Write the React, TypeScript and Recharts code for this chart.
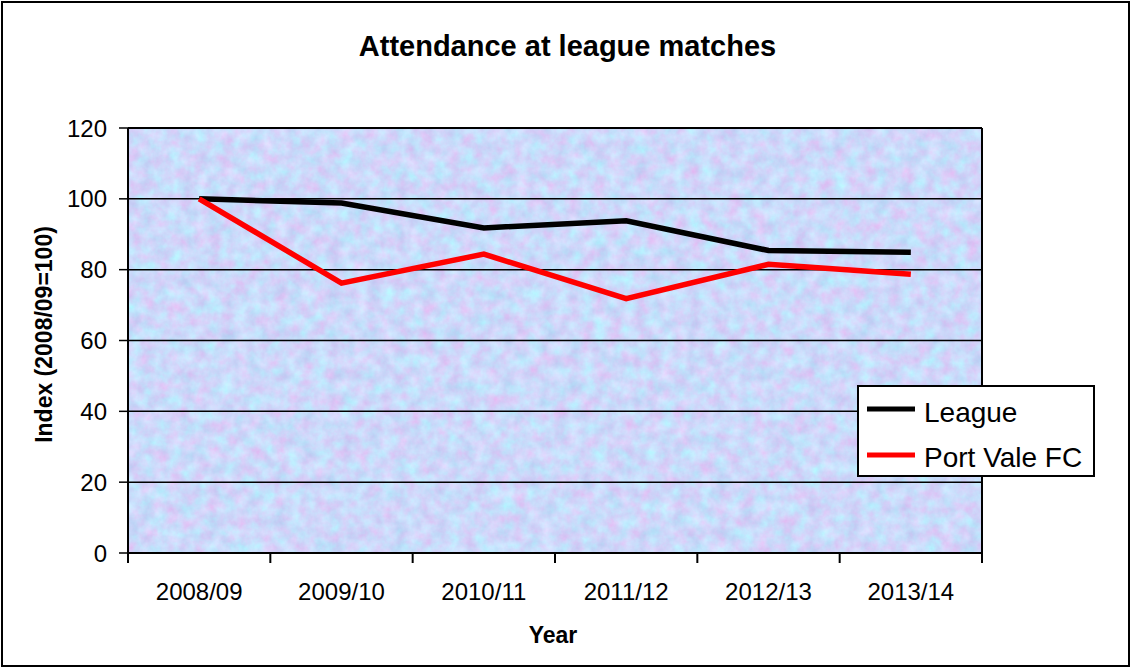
import React from 'react';
import { LineChart, Line, XAxis, YAxis, CartesianGrid, Legend, ReferenceLine } from 'recharts';

const categories = ['2008/09', '2009/10', '2010/11', '2011/12', '2012/13', '2013/14'];
const leagueValues = [100, 98.8, 91.8, 93.8, 85.4, 84.9];
const portValeValues = [100, 76.2, 84.4, 71.8, 81.5, 78.7];
const yTicks = [0, 20, 40, 60, 80, 100, 120];

const FONT = "Arial, 'Liberation Sans', sans-serif";

const data = categories.map((c, i) => ({
  idx: i,
  category: c,
  league: leagueValues[i],
  portVale: portValeValues[i],
}));

// tick positions: category centres (labels) and boundaries (tick marks)
const xTickPositions: number[] = [];
categories.forEach((_, i) => {
  xTickPositions.push(i - 0.5);
  xTickPositions.push(i);
});
xTickPositions.push(categories.length - 0.5);

const renderXTick = (props: any) => {
  const { x, y, payload } = props;
  const v = payload.value;
  if (Number.isInteger(v)) {
    return (
      <text x={x} y={y + 47} textAnchor="middle" fontSize={24} fontFamily={FONT} fill="#000">
        {categories[v]}
      </text>
    );
  }
  return <line x1={x} x2={x} y1={y} y2={y + 10} stroke="#000" strokeWidth={2} />;
};

const renderLegend = (props: any) => {
  const payload = props.payload || [];
  return (
    <svg width={238} height={92} style={{ display: 'block' }}>
      <rect x={1} y={1} width={236} height={90} fill="#fff" stroke="#000" strokeWidth={2} />
      {payload.map((entry: any, i: number) => (
        <g key={i}>
          <line x1={10} x2={58} y1={24 + i * 46} y2={24 + i * 46} stroke={entry.color} strokeWidth={5} />
          <text x={67} y={37 + i * 45} fontSize={28} fontFamily={FONT} fill="#000">
            {entry.value}
          </text>
        </g>
      ))}
    </svg>
  );
};

export default function App() {
  return (
    <div style={{ position: 'absolute', left: 0, top: 0, width: 1132, height: 667, background: '#fff', fontFamily: FONT }}>
      <LineChart
        width={1132}
        height={667}
        data={data}
        margin={{ top: 128, right: 150, bottom: 14, left: 28 }}
      >
        <defs>
          <filter id="texNoise" x="0" y="0" width="1" height="1" colorInterpolationFilters="sRGB">
            <feTurbulence type="fractalNoise" baseFrequency="0.075" numOctaves="4" seed="7" result="t" />
            <feColorMatrix
              in="t"
              type="matrix"
              values="0.25 0 0 0 0.675  -0.12 0.22 0 0 0.8  0 0.08 0 0 0.94  0 0 0 0 1"
            />
          </filter>
          <pattern id="tex" patternUnits="userSpaceOnUse" x="128" y="128" width="854" height="425">
            <rect x="0" y="0" width="854" height="425" fill="#c8d4f6" filter="url(#texNoise)" />
          </pattern>
        </defs>
        <CartesianGrid vertical={false} stroke="#000" strokeWidth={1.5} fill="url(#tex)" fillOpacity={1} />
        <XAxis
          dataKey="idx"
          type="number"
          domain={[-0.5, categories.length - 0.5]}
          ticks={xTickPositions}
          interval={0}
          tickLine={false}
          tickSize={0}
          tickMargin={0}
          axisLine={{ stroke: '#000', strokeWidth: 2 }}
          tick={renderXTick}
          height={100}
          label={{
            content: (p: any) => {
              const vb = p.viewBox || { x: 128, y: 553, width: 854 };
              return (
                <text x={vb.x + vb.width / 2 - 2} y={vb.y + 90} textAnchor="middle" fontSize={23} fontWeight="bold" fontFamily={FONT} fill="#000">
                  Year
                </text>
              );
            },
          }}
        />
        <YAxis
          type="number"
          domain={[0, 120]}
          ticks={yTicks}
          interval={0}
          width={100}
          tickSize={9}
          tickMargin={12}
          tickLine={{ stroke: '#000', strokeWidth: 1.5 }}
          axisLine={{ stroke: '#000', strokeWidth: 2 }}
          tick={{ fill: '#000', fontSize: 24, fontFamily: FONT }}
          label={{
            content: (p: any) => {
              const vb = p.viewBox || { x: 28, y: 128, height: 425 };
              const cx = 52;
              const cy = vb.y + vb.height / 2 - 6;
              return (
                <text x={cx} y={cy} transform={`rotate(-90, ${cx}, ${cy})`} textAnchor="middle" fontSize={23} fontWeight="bold" fontFamily={FONT} fill="#000">
                  Index (2008/09=100)
                </text>
              );
            },
          }}
        />
        <ReferenceLine y={120} stroke="#000" strokeWidth={2} />
        <ReferenceLine x={categories.length - 0.5} stroke="#000" strokeWidth={2} />
        <Line
          type="linear"
          dataKey="league"
          name="League"
          stroke="#000000"
          strokeWidth={5.5}
          strokeLinecap="butt"
          strokeLinejoin="miter"
          dot={false}
          activeDot={false}
          isAnimationActive={false}
        />
        <Line
          type="linear"
          dataKey="portVale"
          name="Port Vale FC"
          stroke="#ff0000"
          strokeWidth={5.5}
          strokeLinecap="butt"
          strokeLinejoin="miter"
          dot={false}
          activeDot={false}
          isAnimationActive={false}
        />
        <Legend
          layout="vertical"
          align="center"
          verticalAlign="middle"
          content={renderLegend}
          wrapperStyle={{ position: 'absolute', left: 857, top: 385, width: 238, height: 92, margin: 0, padding: 0 }}
        />
      </LineChart>
      <div
        style={{
          position: 'absolute',
          left: 0,
          top: 31.5,
          width: 1135,
          textAlign: 'center',
          fontSize: 29,
          lineHeight: '29px',
          fontWeight: 'bold',
          fontFamily: FONT,
          color: '#000',
          pointerEvents: 'none',
        }}
      >
        Attendance at league matches
      </div>
      <div
        style={{
          position: 'absolute',
          left: 1,
          top: 1,
          width: 1129,
          height: 666,
          border: '2px solid #000',
          boxSizing: 'border-box',
          pointerEvents: 'none',
        }}
      />
    </div>
  );
}
